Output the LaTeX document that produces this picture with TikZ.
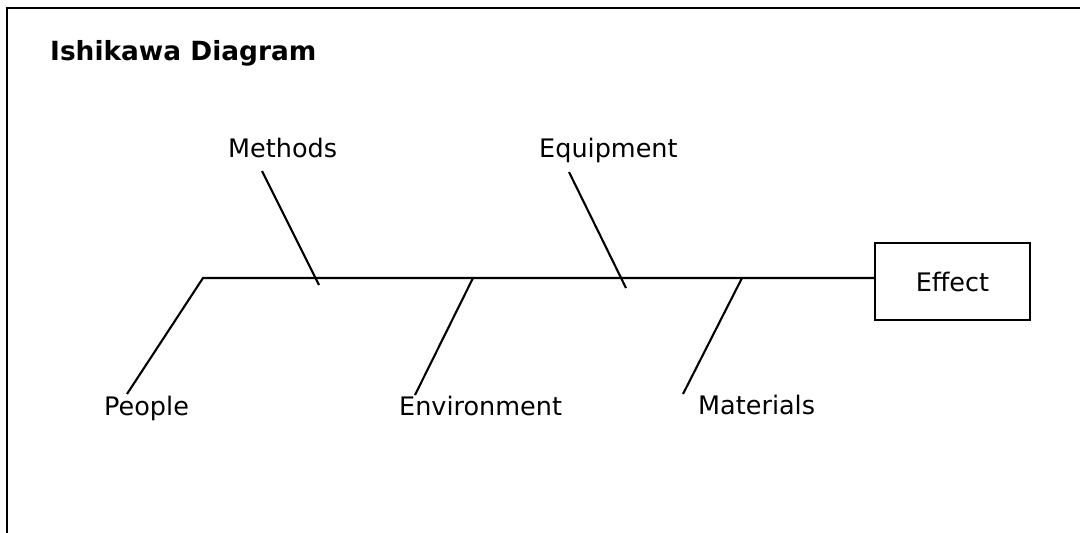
\documentclass[tikz,border=0pt]{standalone}
\usepackage{fontspec}
\setmainfont{DejaVu Sans}
\begin{document}
\begin{tikzpicture}[x=1pt,y=-1pt,
  line/.style={line width=2.1pt,line join=miter},
  lbl/.style={anchor=base west,inner sep=0pt,font=\fontsize{25.5}{30}\selectfont},
  ttl/.style={anchor=base west,inner sep=0pt,font=\fontsize{26.4}{31}\selectfont\bfseries},
  effbox/.style={draw,line width=2.1pt,minimum width=155pt,minimum height=77pt,inner sep=0pt,font=\fontsize{25.5}{30}\selectfont}]
\useasboundingbox (0,0) rectangle (1080,533);
% frame
\draw[line] (7,533) -- (7,8) -- (1081,8);
% title
\node[ttl] (title) at (50,60) {Ishikawa Diagram};
% effect
\node[effbox] (effect) at (952.5,281.5) {Effect};
% labels
\node[lbl] (methods) at (228,157) {Methods};
\node[lbl] (equipment) at (539,157) {Equipment};
\node[lbl] (people) at (104,415) {People};
\node[lbl] (environment) at (399,415) {Environment};
\node[lbl] (materials) at (698,414) {Materials};
% spine and bones
\coordinate (tail) at (203,278);
\coordinate (peopleend) at (127,394);
\coordinate (methtop) at (262,171);
\coordinate (methbot) at (319,285);
\coordinate (envtop) at (473,278);
\coordinate (envbot) at (415,395);
\coordinate (eqtop) at (569,172);
\coordinate (eqbot) at (626,288);
\coordinate (mattop) at (742,278);
\coordinate (matbot) at (683,394);
\draw[line] (peopleend) -- (tail) -- (tail -| effect.west);
\draw[line] (methtop) -- (methbot);
\draw[line] (envtop) -- (envbot);
\draw[line] (eqtop) -- (eqbot);
\draw[line] (mattop) -- (matbot);
\end{tikzpicture}
\end{document}
